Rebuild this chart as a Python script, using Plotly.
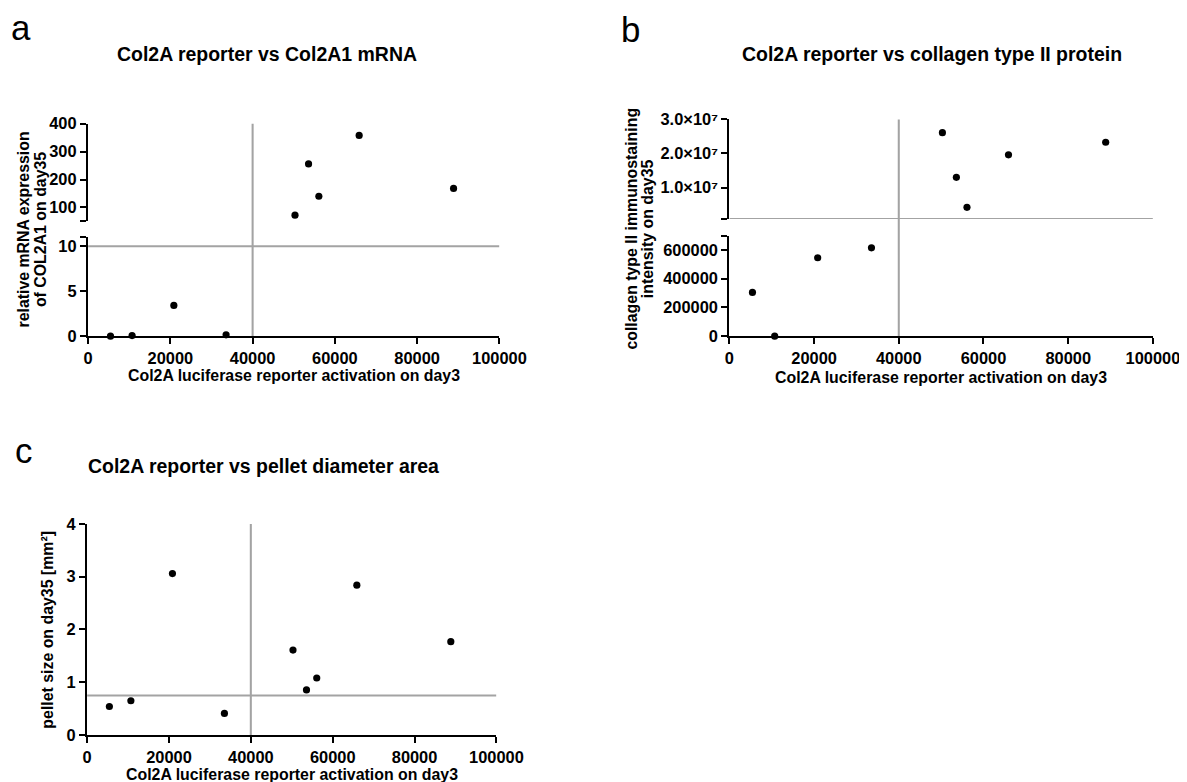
import plotly.graph_objects as go

# ---------------- data ----------------
reporter_day3 = [5450, 10700, 20850, 33550, 50300, 53600, 56100, 65900, 88850]
mrna_day35 = [0.0, 0.07, 3.42, 0.15, 72, 256, 140, 358, 168]
protein_day35 = [305000, 0, 546000, 615000, 26100000, 13000000, 4200000, 19600000, 23300000]
pellet_day35 = [0.54, 0.65, 3.06, 0.41, 1.61, 0.855, 1.08, 2.84, 1.77]

x_tickvals = [0, 20000, 40000, 60000, 80000, 100000]
x_ticktext = ["0", "20000", "40000", "60000", "80000", "100000"]

a_low_tickvals = [0, 5, 10]
a_low_ticktext = ["0", "5", "10"]
a_low_cap = [11]
a_up_tickvals = [100, 200, 300, 400]
a_up_ticktext = ["100", "200", "300", "400"]
a_up_cap = [50]

b_low_tickvals = [0, 200000, 400000, 600000]
b_low_ticktext = ["0", "200000", "400000", "600000"]
b_low_cap = [700000]
b_up_tickvals = [10000000, 20000000, 30000000]
b_up_ticktext = ["1.0×10⁷", "2.0×10⁷", "3.0×10⁷"]
b_up_cap = [800000]

c_tickvals = [0, 1, 2, 3, 4]
c_ticktext = ["0", "1", "2", "3", "4"]

x_threshold = 40000
a_threshold = 10
b_threshold = 800000
c_threshold = 0.75

# ---------------- layout helpers ----------------
# mapping between figure pixels and the photographed page
S = 0.975
OX, OY = 11.8, 16.8
W = int((1187 - OX) / S) + 1
H = int((782 - OY) / S) + 1
FONT = "Liberation Sans, Arial, sans-serif"
GRAY = "#a3a3a3"


def fx(p):
    return ((p - OX) / S) / W


def fy(p):
    return 1 - ((p - OY) / S) / H


def sz(v):
    return v / S


fig = go.Figure()


def add_pts(xs, ys, xa, ya):
    fig.add_trace(go.Scatter(
        x=xs, y=ys, mode="markers", xaxis=xa, yaxis=ya,
        marker=dict(color="black", size=sz(7)), cliponaxis=False,
        showlegend=False, hoverinfo="x+y"))


a_low = [(x, y) for x, y in zip(reporter_day3, mrna_day35) if y <= 11]
a_up = [(x, y) for x, y in zip(reporter_day3, mrna_day35) if y > 11]
add_pts([p[0] for p in a_low], [p[1] for p in a_low], "x", "y")
add_pts([p[0] for p in a_up], [p[1] for p in a_up], "x", "y2")

b_low = [(x, y) for x, y in zip(reporter_day3, protein_day35) if y <= 700000]
b_up = [(x, y) for x, y in zip(reporter_day3, protein_day35) if y > 700000]
add_pts([p[0] for p in b_low], [p[1] for p in b_low], "x2", "y3")
add_pts([p[0] for p in b_up], [p[1] for p in b_up], "x2", "y4")

add_pts(reporter_day3, pellet_day35, "x3", "y5")

tickfont = dict(family=FONT, size=sz(16), color="black", weight="bold")
axis_common = dict(showline=True, linecolor="black", linewidth=sz(2), ticks="outside",
                   ticklen=sz(6), tickwidth=sz(2), tickcolor="black", showgrid=False,
                   zeroline=False, tickfont=tickfont, fixedrange=True)


def xaxis(dom, anchor):
    return dict(domain=dom, anchor=anchor, range=[0, 100000], tickmode="array",
                tickvals=x_tickvals, ticktext=x_ticktext, **axis_common)


def yaxis(dom, rng, tv, tt, anchor, cap=None):
    d = dict(domain=dom, anchor=anchor, range=rng, tickmode="array",
             tickvals=tv, ticktext=tt, **axis_common)
    if cap:
        d["minor"] = dict(tickmode="array", tickvals=cap, ticks="outside",
                          ticklen=sz(6), tickwidth=sz(2), tickcolor="black", showgrid=False)
    return d


a_x = [fx(87), fx(499)]
a_low_dom = [fy(335.3), fy(236.7)]
a_up_dom = [fy(220.7), fy(123.3)]
b_x = [fx(729.3), fx(1153.5)]
b_low_dom = [fy(335.3), fy(235)]
b_up_dom = [fy(218.3), fy(119)]
c_x = [fx(86), fx(496)]
c_dom = [fy(733.3), fy(522.7)]

fig.update_layout(
    width=W, height=H, autosize=False,
    margin=dict(l=0, r=0, t=0, b=0),
    paper_bgcolor="white", plot_bgcolor="rgba(0,0,0,0)",
    showlegend=False,
    xaxis=xaxis(a_x, "y"),
    xaxis2=xaxis(b_x, "y3"),
    xaxis3=xaxis(c_x, "y5"),
    yaxis=yaxis(a_low_dom, [0, 11], a_low_tickvals, a_low_ticktext, "x", a_low_cap),
    yaxis2=yaxis(a_up_dom, [50, 400], a_up_tickvals, a_up_ticktext, "x", a_up_cap),
    yaxis3=yaxis(b_low_dom, [0, 700000], b_low_tickvals, b_low_ticktext, "x2", b_low_cap),
    yaxis4=yaxis(b_up_dom, [800000, 30000000], b_up_tickvals, b_up_ticktext, "x2", b_up_cap),
    yaxis5=yaxis(c_dom, [0, 4], c_tickvals, c_ticktext, "x3"),
)

line_style = dict(color=GRAY, width=sz(2))
shapes = [
    dict(type="line", xref="x", yref="paper", x0=x_threshold, x1=x_threshold,
         y0=a_low_dom[0], y1=a_up_dom[1], line=line_style, layer="below"),
    dict(type="line", xref="x", yref="y", x0=0, x1=100000, y0=a_threshold, y1=a_threshold,
         line=line_style, layer="below"),
    dict(type="line", xref="x2", yref="paper", x0=x_threshold, x1=x_threshold,
         y0=b_low_dom[0], y1=b_up_dom[1], line=line_style, layer="below"),
    dict(type="line", xref="x2", yref="y4", x0=0, x1=100000, y0=b_threshold, y1=b_threshold,
         line=line_style, layer="below"),
    dict(type="line", xref="x3", yref="y5", x0=x_threshold, x1=x_threshold,
         y0=0, y1=4, line=line_style, layer="below"),
    dict(type="line", xref="x3", yref="y5", x0=0, x1=100000, y0=c_threshold, y1=c_threshold,
         line=line_style, layer="below"),
]
fig.update_layout(shapes=shapes)

title_font = dict(family=FONT, size=sz(19), color="black", weight="bold")
label_font = dict(family=FONT, size=sz(15.5), color="black", weight="bold")
letter_font = dict(family=FONT, size=sz(34), color="black")


def ann(text, px, py, font, angle=0):
    fig.add_annotation(text=text, x=fx(px), y=fy(py), xref="paper", yref="paper",
                       showarrow=False, xanchor="center", yanchor="middle",
                       textangle=angle, font=font)


ann("a", 20, 27, letter_font)
ann("b", 630, 29, letter_font)
ann("c", 22, 449, letter_font)

ann("Col2A reporter vs Col2A1 mRNA", 266, 53.3, title_font)
ann("Col2A reporter vs collagen type II protein", 932, 53.3, title_font)
ann("Col2A reporter vs pellet diameter area", 262.6, 465, title_font)

xt = "Col2A luciferase reporter activation on day3"
ann(xt, 293, 375, label_font)
ann(xt, 941.4, 377, label_font)
ann(xt, 291, 772.7, label_font)

ann("relative mRNA expression", 22.7, 229, label_font, -90)
ann("of COL2A1 on day35", 39.3, 229, label_font, -90)
ann("collagen type II immunostaining", 631.7, 228, label_font, -90)
ann("intensity on day35", 647.3, 228, label_font, -90)
ann("pellet size on day35 [mm²]", 46.7, 628.3, label_font, -90)

fig.write_html("out.html")
